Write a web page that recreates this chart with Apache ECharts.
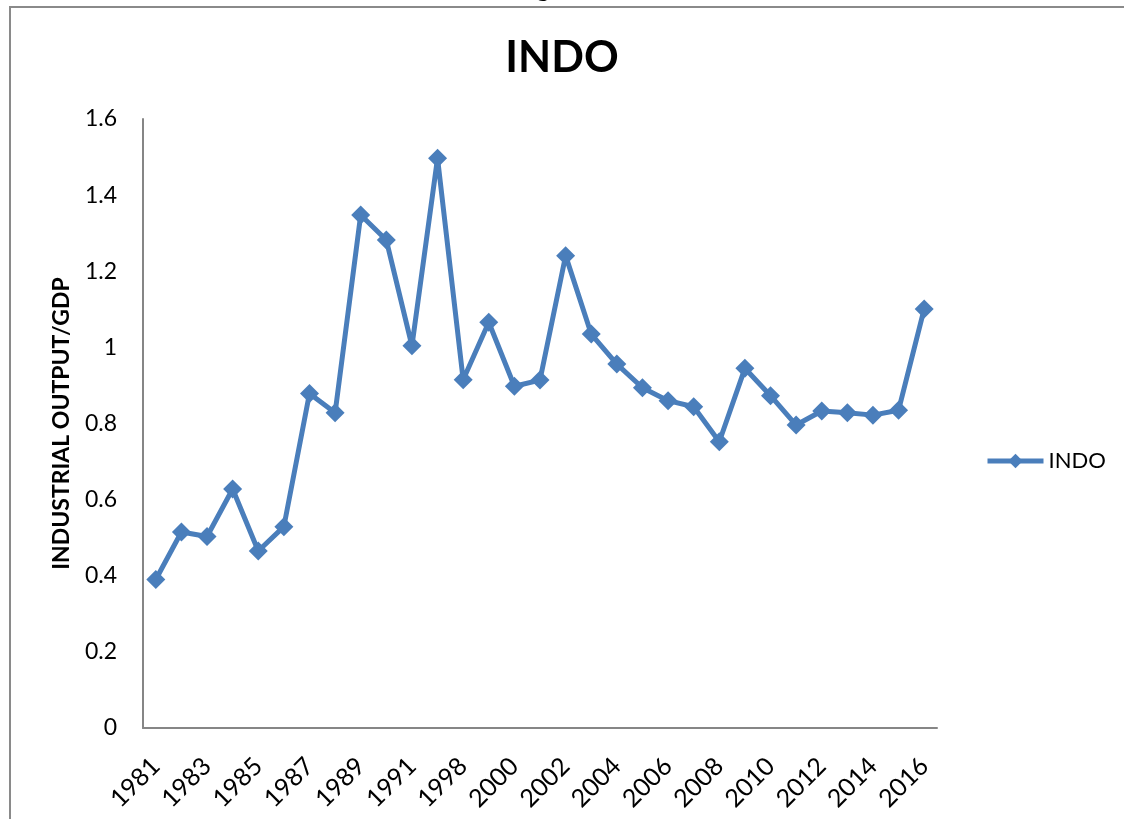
<!DOCTYPE html>
<html>
<head>
<meta charset="utf-8">
<script src="https://cdn.jsdelivr.net/npm/echarts@6/dist/echarts.min.js"></script>
<style>html,body{margin:0;padding:0;background:#fff}#c{width:1124px;height:819px}</style>
</head>
<body>
<div id="c"></div>
<script>
const years = ['1981','1982','1983','1984','1985','1986','1987','1988','1989','1990','1991','1997','1998','1999','2000','2001','2002','2003','2004','2005','2006','2007','2008','2009','2010','2011','2012','2013','2014','2015','2016'];
const indo = [0.39,0.515,0.503,0.628,0.465,0.529,0.879,0.828,1.348,1.282,1.004,1.497,0.915,1.066,0.898,0.914,1.241,1.035,0.956,0.894,0.860,0.844,0.752,0.945,0.873,0.796,0.833,0.828,0.822,0.835,1.101];
const titleText = 'INDO';
const yName = 'INDUSTRIAL OUTPUT/GDP';

const chart = echarts.init(document.getElementById('c'));
chart.setOption({
  animation: false,
  backgroundColor: '#fff',
  textStyle: { fontFamily: 'Lato, "Open Sans", sans-serif' },
  title: {
    text: titleText, left: 'center', top: 32,
    textStyle: { fontSize: 43, fontWeight: 'bold', color: '#000', fontFamily: 'Lato, sans-serif' }
  },
  graphic: [
    { type: 'rect', shape: { x: 10, y: 7, width: 1300, height: 1000 }, style: { fill: 'none', stroke: '#8a8a8a', lineWidth: 2 }, silent: true },
    { type: 'text', left: 537, top: -22, style: { text: 'g', font: 'bold 24px "Liberation Serif", serif', fill: '#000' }, silent: true }
  ],
  legend: {
    left: 980, top: 445, itemWidth: 56, itemHeight: 18, itemGap: 4,
    textStyle: { fontSize: 22, color: '#000' },
    lineStyle: { width: 5 },
    data: ['INDO']
  },
  grid: { left: 143, right: 187, top: 119, bottom: 91, containLabel: false },
  xAxis: {
    type: 'category', data: years, boundaryGap: true,
    axisLine: { lineStyle: { color: '#868686', width: 2 } },
    axisTick: { show: false },
    axisLabel: { interval: 1, rotate: 45, fontSize: 25, color: '#000', margin: 34 }
  },
  yAxis: {
    type: 'value', min: 0, max: 1.6, interval: 0.2,
    name: yName, nameLocation: 'middle', nameRotate: 90, nameGap: 70,
    nameTextStyle: { fontSize: 23, fontWeight: 'bold', color: '#000' },
    splitLine: { show: false },
    axisLine: { show: true, lineStyle: { color: '#868686', width: 2 } },
    axisTick: { show: false },
    axisLabel: { fontSize: 23, color: '#000', margin: 26 }
  },
  series: [{
    name: 'INDO', type: 'line', data: indo,
    symbol: 'diamond', symbolSize: 19, showAllSymbol: true,
    lineStyle: { color: '#4A7EBB', width: 5 },
    itemStyle: { color: '#4A7EBB' }
  }]
});
</script>
</body>
</html>
